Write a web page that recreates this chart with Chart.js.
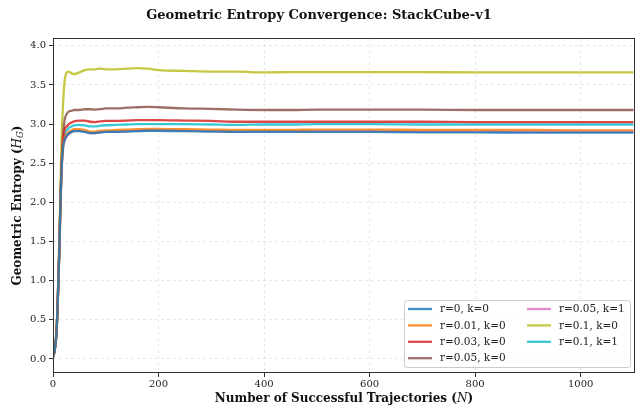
<!DOCTYPE html>
<html>
<head>
<meta charset="utf-8">
<script src="https://cdn.jsdelivr.net/npm/chart.js@4.4.1/dist/chart.umd.min.js"></script>
<style>
  html, body { margin: 0; padding: 0; background: #fff; }
  #wrap { width: 638px; height: 406px; position: relative; }
</style>
</head>
<body>
<div id="wrap"><canvas id="chart"></canvas></div>
<script>
// ===== 数据 =====
const TITLE = "Geometric Entropy Convergence: StackCube-v1";
const X_TICKS = [0, 200, 400, 600, 800, 1000];
const Y_TICKS = [0, 0.5, 1, 1.5, 2, 2.5, 3, 3.5, 4];

// 轨迹数 N（采样点）
const N_VALUES = [0, 3, 6, 8, 10, 12, 14, 16, 19, 22, 26, 30, 35, 40, 50, 60, 70, 80, 90, 100,
  120, 140, 160, 180, 200, 250, 300, 350, 400, 450, 500, 600, 700, 800, 900, 1000, 1100];

const H_R0_K0 = [0.03, 0.10, 0.28, 0.54, 0.95, 1.39, 1.95, 2.38, 2.70, 2.80, 2.85, 2.88, 2.90, 2.91, 2.91, 2.90, 2.885, 2.885, 2.895, 2.90,
  2.90, 2.905, 2.91, 2.915, 2.915, 2.91, 2.905, 2.90, 2.90, 2.90, 2.90, 2.90, 2.895, 2.895, 2.89, 2.89, 2.89];
const H_R001_K0 = [0.03, 0.10, 0.28, 0.54, 0.95, 1.39, 1.95, 2.40, 2.72, 2.82, 2.87, 2.90, 2.92, 2.935, 2.935, 2.925, 2.905, 2.905, 2.915, 2.92,
  2.925, 2.93, 2.935, 2.94, 2.94, 2.935, 2.93, 2.925, 2.925, 2.925, 2.93, 2.93, 2.925, 2.925, 2.925, 2.92, 2.92];
const H_R003_K0 = [0.03, 0.10, 0.28, 0.54, 0.95, 1.40, 1.97, 2.42, 2.80, 2.93, 2.97, 3.00, 3.02, 3.035, 3.045, 3.045, 3.03, 3.025, 3.035, 3.04,
  3.04, 3.045, 3.05, 3.05, 3.05, 3.045, 3.04, 3.03, 3.03, 3.03, 3.03, 3.03, 3.03, 3.025, 3.025, 3.025, 3.025];
const H_R005_K0 = [0.03, 0.10, 0.29, 0.55, 0.97, 1.42, 2.00, 2.45, 2.85, 3.05, 3.13, 3.16, 3.17, 3.18, 3.18, 3.19, 3.19, 3.185, 3.19, 3.20,
  3.20, 3.21, 3.215, 3.22, 3.215, 3.20, 3.195, 3.185, 3.18, 3.18, 3.185, 3.185, 3.185, 3.18, 3.18, 3.18, 3.18];
const H_R005_K1 = [0.03, 0.10, 0.28, 0.54, 0.95, 1.38, 1.93, 2.37, 2.68, 2.78, 2.84, 2.87, 2.90, 2.915, 2.915, 2.905, 2.885, 2.885, 2.895, 2.90,
  2.905, 2.91, 2.915, 2.92, 2.92, 2.915, 2.91, 2.905, 2.91, 2.91, 2.91, 2.91, 2.905, 2.905, 2.90, 2.90, 2.90];
const H_R01_K0 = [0.03, 0.10, 0.30, 0.58, 1.02, 1.55, 2.15, 2.75, 3.25, 3.55, 3.66, 3.67, 3.65, 3.64, 3.66, 3.69, 3.70, 3.70, 3.71, 3.70,
  3.70, 3.71, 3.715, 3.71, 3.69, 3.68, 3.67, 3.67, 3.66, 3.665, 3.665, 3.665, 3.665, 3.66, 3.66, 3.66, 3.66];
const H_R01_K1 = [0.03, 0.10, 0.28, 0.54, 0.95, 1.39, 1.95, 2.40, 2.75, 2.87, 2.92, 2.95, 2.97, 2.985, 2.99, 2.985, 2.97, 2.97, 2.98, 2.985,
  2.99, 2.995, 3.00, 3.00, 3.00, 3.00, 2.995, 2.99, 2.995, 2.995, 3.00, 3.00, 2.995, 2.995, 2.995, 2.995, 2.995];

const SERIES = [
  { label: "r=0, k=0",    data: H_R0_K0,   color: "#1f77b4" },
  { label: "r=0.01, k=0", data: H_R001_K0, color: "#ff7f0e" },
  { label: "r=0.03, k=0", data: H_R003_K0, color: "#d62728" },
  { label: "r=0.05, k=0", data: H_R005_K0, color: "#8c564b" },
  { label: "r=0.05, k=1", data: H_R005_K1, color: "#e377c2" },
  { label: "r=0.1, k=0",  data: H_R01_K0,  color: "#bcbd22" },
  { label: "r=0.1, k=1",  data: H_R01_K1,  color: "#17becf" }
];

const SERIF = "'DejaVu Serif', serif";

function withAlpha(hex, a) {
  const n = parseInt(hex.slice(1), 16);
  return `rgba(${n >> 16},${(n >> 8) & 255},${n & 255},${a})`;
}

// 画带斜体/下标的文字
function drawRich(ctx, parts, cx, cy, rotate) {
  ctx.save();
  ctx.translate(cx, cy);
  if (rotate) ctx.rotate(-Math.PI / 2);
  ctx.textBaseline = "middle";
  ctx.textAlign = "left";
  ctx.fillStyle = "#111";
  let total = 0;
  parts.forEach((p) => { ctx.font = p.font; total += ctx.measureText(p.text).width; });
  let x = -total / 2;
  parts.forEach((p) => {
    ctx.font = p.font;
    ctx.fillText(p.text, x, p.dy || 0);
    x += ctx.measureText(p.text).width;
  });
  ctx.restore();
}

const decorPlugin = {
  id: "decor",
  afterDraw(chart) {
    const { ctx, chartArea: a } = chart;
    // 边框
    ctx.save();
    ctx.strokeStyle = "#333";
    ctx.lineWidth = 1;
    ctx.strokeRect(a.left + 0.5, a.top + 0.5, a.right - a.left - 1, a.bottom - a.top - 1);
    ctx.restore();

    // 标题
    ctx.save();
    ctx.font = `bold 13px ${SERIF}`;
    ctx.fillStyle = "#111";
    ctx.textAlign = "center";
    ctx.textBaseline = "middle";
    ctx.fillText(TITLE, chart.width / 2, 16);
    ctx.restore();

    // 坐标轴标题
    drawRich(ctx, [
      { text: "Number of Successful Trajectories (", font: `bold 12px ${SERIF}` },
      { text: "N", font: `italic 12px ${SERIF}` },
      { text: ")", font: `bold 12px ${SERIF}` }
    ], (a.left + a.right) / 2, 399, false);
    drawRich(ctx, [
      { text: "Geometric Entropy (", font: `bold 12px ${SERIF}` },
      { text: "H", font: `italic 12px ${SERIF}` },
      { text: "G", font: `italic 8.5px ${SERIF}`, dy: 3 },
      { text: ")", font: `bold 12px ${SERIF}` }
    ], 18, (a.top + a.bottom) / 2, true);

    // 图例（两列，按列排）
    const bx = 404, by = 300, bw = 226, bh = 67;
    ctx.save();
    ctx.beginPath();
    ctx.roundRect(bx + 0.5, by + 0.5, bw, bh, 3);
    ctx.fillStyle = "rgba(255,255,255,0.85)";
    ctx.fill();
    ctx.strokeStyle = "#cccccc";
    ctx.lineWidth = 1;
    ctx.stroke();
    ctx.font = `10.5px ${SERIF}`;
    ctx.textBaseline = "middle";
    ctx.textAlign = "left";
    const rows = 4, rowH = 16.4;
    SERIES.forEach((s, i) => {
      const col = Math.floor(i / rows), row = i % rows;
      const lx = col === 0 ? 408 : 527;
      const y = 309 + row * rowH;
      ctx.strokeStyle = withAlpha(s.color, 0.85);
      ctx.lineWidth = 2.3;
      ctx.beginPath();
      ctx.moveTo(lx, y);
      ctx.lineTo(lx + 24, y);
      ctx.stroke();
      ctx.fillStyle = "#222";
      ctx.fillText(s.label, lx + 32, y + 0.5);
    });
    ctx.restore();
  }
};

new Chart(document.getElementById("chart"), {
  type: "line",
  data: {
    datasets: SERIES.map((s) => ({
      label: s.label,
      data: N_VALUES.map((n, i) => ({ x: n, y: s.data[i] })),
      borderColor: withAlpha(s.color, 0.85),
      borderWidth: 2.3,
      pointRadius: 0,
      fill: false,
      cubicInterpolationMode: "monotone"
    }))
  },
  options: {
    responsive: true,
    maintainAspectRatio: false,
    animation: false,
    events: [],
    layout: { padding: { top: 38, right: 3, left: 0, bottom: 0 } },
    plugins: { legend: { display: false }, title: { display: false }, tooltip: { enabled: false } },
    scales: {
      x: {
        type: "linear",
        min: 0,
        max: 1103,
        afterBuildTicks: (s) => { s.ticks = X_TICKS.map((v) => ({ value: v })); },
        afterFit: (s) => { s.height = 33; },
        ticks: { font: { family: SERIF, size: 10 }, color: "#222", padding: 1, maxRotation: 0, callback: (v) => String(v) },
        grid: { color: "rgba(190,190,190,0.45)", lineWidth: 0.8, tickLength: 4, tickColor: "#333", tickWidth: 1 },
        border: { display: false, dash: [3, 3] }
      },
      y: {
        min: -0.18,
        max: 4.1,
        afterBuildTicks: (s) => { s.ticks = Y_TICKS.map((v) => ({ value: v })); },
        afterFit: (s) => { s.width = 53; },
        ticks: { font: { family: SERIF, size: 10 }, color: "#222", padding: 3, callback: (v) => Number(v).toFixed(1) },
        grid: { color: "rgba(190,190,190,0.45)", lineWidth: 0.8, tickLength: 4, tickColor: "#333", tickWidth: 1 },
        border: { display: false, dash: [3, 3] }
      }
    }
  },
  plugins: [decorPlugin]
});
</script>
</body>
</html>
